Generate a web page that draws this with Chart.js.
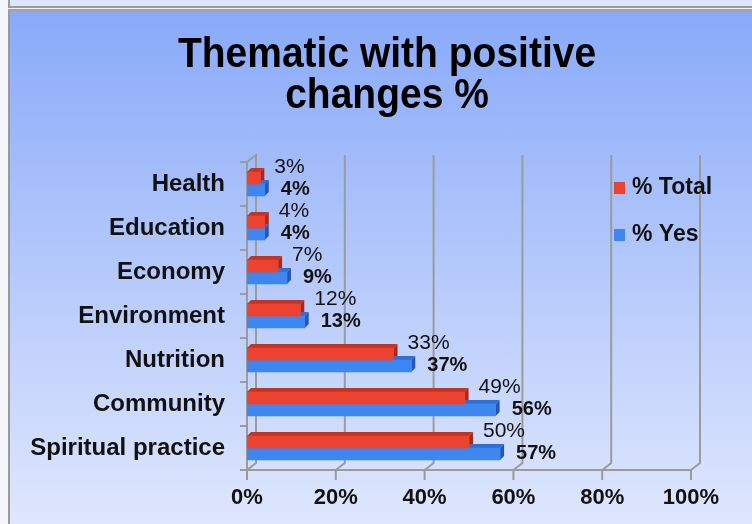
<!DOCTYPE html>
<html><head><meta charset="utf-8">
<script src="https://cdn.jsdelivr.net/npm/chart.js@4/dist/chart.umd.min.js"></script>
<style>
html,body{margin:0;padding:0;width:752px;height:524px;overflow:hidden;background:#f4f6fb;}
.abs{position:absolute;box-sizing:border-box;}
#strip{left:8px;top:0;width:744px;height:6px;background:#dce5fb;border-left:2px solid #9a9a9a;}
#l1{left:8px;top:6px;width:744px;height:2px;background:#9a9a9a;}
#l2{left:8px;top:8px;width:744px;height:1px;background:#eef0f4;}
#l3{left:8px;top:9px;width:744px;height:2px;background:#a2a2a2;}
#box{left:8px;top:11px;width:744px;height:513px;border-left:2px solid #9a9a9a;background:linear-gradient(#89aaf9,#dfe7fd);}
canvas{position:absolute;left:0;top:0;}
</style></head>
<body>
<div class="abs" id="strip"></div><div class="abs" id="l1"></div><div class="abs" id="l2"></div><div class="abs" id="l3"></div>
<div class="abs" id="box"></div>
<canvas id="c" width="752" height="524"></canvas>
<script>
const categories = ['Health','Education','Economy','Environment','Nutrition','Community','Spiritual practice'];
const totalValues = [3, 4, 7, 12, 33, 49, 50];
const yesValues = [4, 4, 9, 13, 37, 56, 57];
const xTicks = [0, 20, 40, 60, 80, 100];
const seriesNames = ['% Total', '% Yes'];
const titleLines = ['Thematic with positive', 'changes %'];

const frontColors = ['#ec4232', '#3f87f0'];
const topColors = ['#c9321f', '#2f6fd8'];
const sideColors = ['#a8281a', '#2656b4'];
const FONT = '"Liberation Sans", Arial, sans-serif';
const DX = 9, DY = 7, BD = 4;

const frame3d = {
  id: 'frame3d',
  beforeDatasetsDraw(chart) {
    const {ctx, chartArea: a, scales: {x, y}} = chart;
    ctx.save();
    ctx.strokeStyle = '#9b9b9b';
    ctx.lineWidth = 2;
    ctx.beginPath();
    ctx.moveTo(a.left, a.bottom); ctx.lineTo(a.left, a.top);
    ctx.lineTo(a.left + DX, a.top - DY); ctx.lineTo(a.left + DX, a.bottom - DY);
    ctx.stroke();
    xTicks.forEach(v => {
      const px = x.getPixelForValue(v);
      ctx.beginPath();
      ctx.moveTo(px + DX, a.top - DY); ctx.lineTo(px + DX, a.bottom - DY); ctx.lineTo(px, a.bottom);
      ctx.stroke();
      ctx.beginPath(); ctx.moveTo(px, a.bottom); ctx.lineTo(px, a.bottom + 10); ctx.stroke();
    });
    ctx.beginPath();
    ctx.moveTo(a.left, a.bottom); ctx.lineTo(x.getPixelForValue(xTicks[xTicks.length - 1]), a.bottom);
    ctx.stroke();
    for (let i = 0; i <= categories.length; i++) {
      const py = y.getPixelForValue(i - 0.5);
      ctx.beginPath(); ctx.moveTo(a.left - 7, py); ctx.lineTo(a.left, py); ctx.stroke();
    }
    chart.data.datasets.forEach((ds, di) => {
      const meta = chart.getDatasetMeta(di);
      meta.data.forEach(bar => {
        const p = bar.getProps(['x', 'y', 'base', 'height'], true);
        const top = p.y - p.height / 2, bot = p.y + p.height / 2;
        ctx.fillStyle = topColors[di];
        ctx.beginPath();
        ctx.moveTo(p.base, top); ctx.lineTo(p.base + BD, top - BD); ctx.lineTo(p.x + BD, top - BD); ctx.lineTo(p.x, top);
        ctx.closePath(); ctx.fill();
        ctx.fillStyle = sideColors[di];
        ctx.beginPath();
        ctx.moveTo(p.x, top); ctx.lineTo(p.x + BD, top - BD); ctx.lineTo(p.x + BD, bot - BD); ctx.lineTo(p.x, bot);
        ctx.closePath(); ctx.fill();
      });
    });
    ctx.restore();
  },
  afterDatasetsDraw(chart) {
    const {ctx} = chart;
    ctx.save();
    ctx.fillStyle = '#111';
    ctx.textAlign = 'left';
    ctx.textBaseline = 'middle';
    chart.data.datasets.forEach((ds, di) => {
      const meta = chart.getDatasetMeta(di);
      ctx.font = di === 0 ? '21px ' + FONT : 'bold 20px ' + FONT;
      meta.data.forEach((bar, i) => {
        const dx = di === 0 ? 14 : 16;
        const dy = di === 0 ? -10.5 : -1;
        ctx.fillText(ds.data[i] + '%', bar.x + dx, bar.y + dy);
      });
    });
    // legend
    ctx.font = 'bold 23px ' + FONT;
    chart.data.datasets.forEach((ds, di) => {
      const ly = 188 + di * 47;
      ctx.fillStyle = ds.backgroundColor;
      ctx.fillRect(614, ly - 6, 11, 12);
      ctx.fillStyle = '#111';
      ctx.fillText(ds.label, 632, ly);
    });
    // title
    ctx.fillStyle = '#000';
    ctx.textAlign = 'center';
    ctx.textBaseline = 'alphabetic';
    ctx.font = 'bold 39px ' + FONT;
    titleLines.forEach((t, i) => {
      ctx.save();
      ctx.translate(387, 67 + i * 41);
      ctx.scale(1, 1.08);
      ctx.fillText(t, 0, 0);
      ctx.restore();
    });
    ctx.restore();
  }
};

new Chart(document.getElementById('c'), {
  type: 'bar',
  data: {
    labels: categories,
    datasets: [
      {label: seriesNames[0], data: totalValues, backgroundColor: frontColors[0], borderWidth: 0, barThickness: 12},
      {label: seriesNames[1], data: yesValues, backgroundColor: frontColors[1], borderWidth: 0, barThickness: 12}
    ]
  },
  options: {
    indexAxis: 'y',
    responsive: false,
    animation: false,
    layout: {padding: {left: 10, right: 61, top: 162, bottom: 0}},
    plugins: {
      legend: {display: false},
      tooltip: {enabled: false},
      title: {display: false}
    },
    scales: {
      x: {
        min: 0, max: 100,
        afterFit(s) { s.height = 54; },
        afterBuildTicks(s) { s.ticks = xTicks.map(v => ({value: v})); },
        grid: {display: false, drawTicks: false},
        border: {display: false},
        ticks: {padding: 15, color: '#111', font: {family: FONT, size: 22, weight: 'bold'}, callback: v => v + '%'}
      },
      y: {
        afterFit(s) { s.width = 237; },
        grid: {display: false, drawTicks: false},
        border: {display: false},
        ticks: {padding: 22, color: '#111', font: {family: FONT, size: 24, weight: 'bold'}}
      }
    }
  },
  plugins: [frame3d]
});
</script>
</body></html>
